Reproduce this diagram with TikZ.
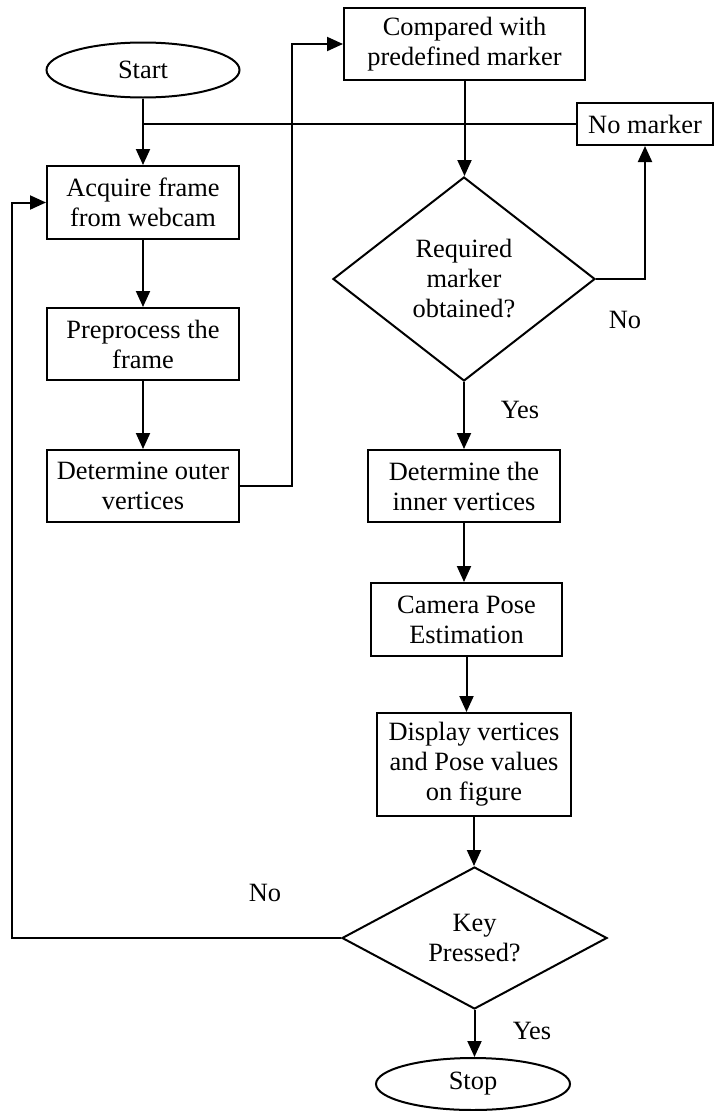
\documentclass[tikz,border=0pt]{standalone}
\usepackage{fontspec}
\setmainfont{Liberation Serif}
\usetikzlibrary{shapes.geometric,arrows.meta}
\begin{document}
\begin{tikzpicture}[x=1pt,y=-1pt,
 every node/.style={font=\fontsize{26.4}{30}\selectfont},
 box/.style={draw,line width=2pt,rectangle,inner sep=0pt,align=center},
 termnode/.style={draw,line width=2pt,ellipse,inner sep=0pt},
 decnode/.style={draw,line width=2pt,diamond,inner sep=0pt,align=center},
 conn/.style={line width=2pt,-{Triangle[length=16pt,width=14pt]}},
 plain/.style={line width=2pt},
 lbl/.style={anchor=base,inner sep=0pt}]
\useasboundingbox (0,0) rectangle (725,1111);
% nodes
\node[termnode,minimum width=193pt,minimum height=55pt] (start) at (143,70) {Start};
\node[box,minimum width=192pt,minimum height=73pt] (acq) at (143,202.5) {Acquire frame\\from webcam};
\node[box,minimum width=192pt,minimum height=72pt] (pre) at (143,344) {Preprocess the\\frame};
\node[box,minimum width=192pt,minimum height=72pt] (outer) at (143,486) {Determine outer\\vertices};
\node[box,minimum width=241pt,minimum height=72pt] (cmp) at (464.5,44) {Compared with\\predefined marker};
\node[box,minimum width=136pt,minimum height=42pt] (nom) at (645,124) {No marker};
\node[decnode,aspect=1.28,minimum width=262pt,minimum height=204pt] (d1) at (464,279) {Required\\marker\\obtained?};
\node[box,minimum width=192pt,minimum height=72pt] (inner) at (464,486) {Determine the\\inner vertices};
\node[box,minimum width=191pt,minimum height=73pt] (cam) at (466.5,619.5) {Camera Pose\\Estimation};
\node[box,minimum width=194pt,minimum height=103pt] (disp) at (474,764.5) {Display vertices\\and Pose values\\on figure};
\node[decnode,aspect=1.87,minimum width=265pt,minimum height=142pt] (d2) at (474.5,938) {Key\\Pressed?};
\node[termnode,minimum width=194pt,minimum height=52pt] (stop) at (473,1084) {Stop};
% labels
\node[lbl] (no1) at (625,328) {No};
\node[lbl] (yes1) at (520,418) {Yes};
\node[lbl] (no2) at (265,901) {No};
\node[lbl] (yes2) at (532,1039) {Yes};
% connectors
\coordinate (j) at (143,124);
\draw[conn] (start.south) -- (acq.north);
\draw[plain] (nom.west) -- (j);
\draw[conn] (acq.south) -- (pre.north);
\draw[conn] (pre.south) -- (outer.north);
\coordinate (r1) at (292,486);
\coordinate (r2) at (292,44);
\draw[conn] (outer.east) -- (r1) -- (r2) -- (cmp.west);
\draw[conn] (cmp.south) -- (cmp.south |- d1.north);
\coordinate (n1) at (645,279);
\draw[conn] (d1.east) -- (n1) -- (nom.south);
\draw[conn] (d1.south) -- (d1.south |- inner.north);
\draw[conn] (inner.south) -- (inner.south |- cam.north);
\draw[conn] (cam.south) -- (cam.south |- disp.north);
\draw[conn] (disp.south) -- (disp.south |- d2.north);
\draw[conn] (d2.south) -- (d2.south |- stop.north);
\coordinate (l1) at (12,938);
\coordinate (l2) at (12,202.5);
\draw[conn] (d2.west) -- (l1) -- (l2) -- (acq.west);
\end{tikzpicture}
\end{document}
